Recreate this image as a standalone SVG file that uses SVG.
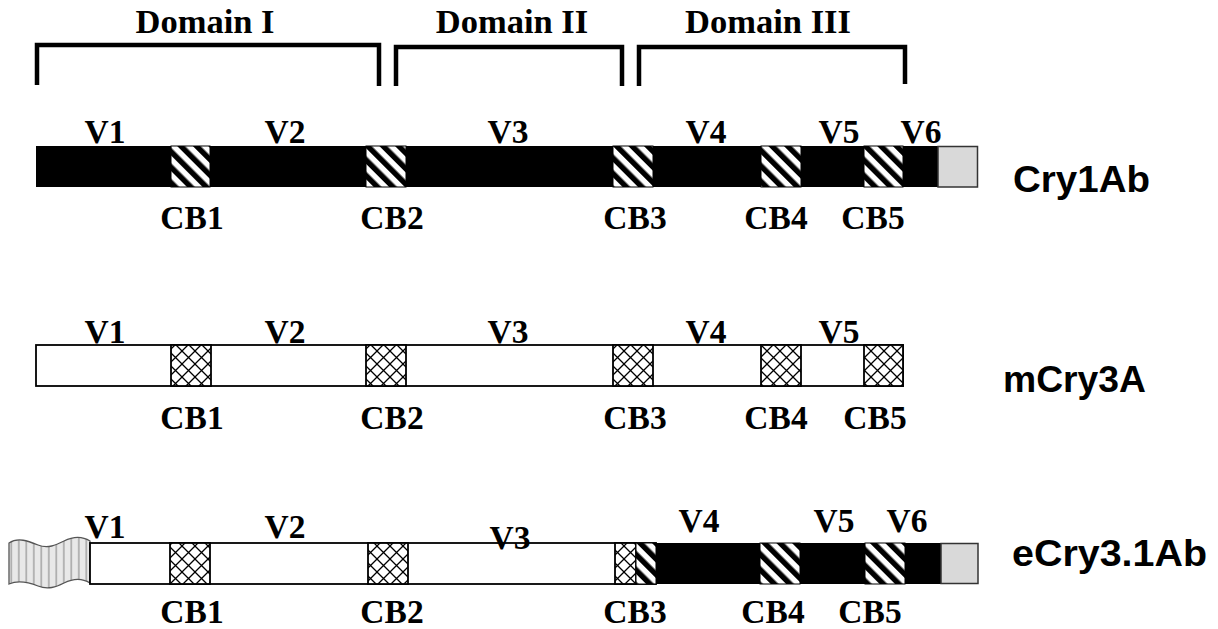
<svg xmlns="http://www.w3.org/2000/svg" width="1218" height="629" viewBox="0 0 1218 629">
<style>
.t{font-family:"Liberation Serif","Times New Roman",serif;font-weight:bold;font-size:33.5px;fill:#000;text-anchor:middle}
.d{font-family:"Liberation Serif","Times New Roman",serif;font-weight:bold;font-size:34.5px;fill:#000;text-anchor:middle}
.n{font-family:"Liberation Sans",Arial,sans-serif;font-weight:bold;font-size:37px;fill:#000}
.br{fill:none;stroke:#000;stroke-width:4.5;stroke-linejoin:miter}
.blk{fill:#000}
.wht{fill:#fff;stroke:#000;stroke-width:1.8}
.grey{fill:#d9d9d9;stroke:#333;stroke-width:1.5}
.diag{fill:url(#diag);stroke:#000;stroke-width:1}
.cross{fill:url(#cross);stroke:#000;stroke-width:1.8}
</style>
<defs>
<pattern id="diag" patternUnits="userSpaceOnUse" width="11" height="11" patternTransform="rotate(-45)">
<rect width="11" height="11" fill="#fff"/>
<rect width="5.5" height="11" fill="#000"/>
</pattern>
<pattern id="cross" patternUnits="userSpaceOnUse" width="13" height="13">
<rect width="13" height="13" fill="#fff"/>
<path d="M0,0L13,13M13,0L0,13" stroke="#000" stroke-width="1.3"/>
</pattern>
<pattern id="vstripe" patternUnits="userSpaceOnUse" width="7.5" height="10">
<rect width="7.5" height="10" fill="#e8e8e8"/>
<rect x="3" width="1.6" height="10" fill="#a8a8a8"/>
</pattern>
</defs>
<g id="domains">
<path class="br" d="M37,85V45H379V86"/>
<path class="br" d="M396,86V47H622V86"/>
<path class="br" d="M639,86V47H905V84"/>
<text class="d" x="205" y="33">Domain I</text>
<text class="d" x="512" y="33">Domain II</text>
<text class="d" x="768" y="33">Domain III</text>
</g>
<g id="cry1ab">
<rect class="blk" x="36" y="146" width="902" height="41"/>
<rect class="diag" x="171" y="146" width="39" height="41"/>
<rect class="diag" x="366" y="146" width="40" height="41"/>
<rect class="diag" x="613" y="146" width="40" height="41"/>
<rect class="diag" x="761" y="146" width="40" height="41"/>
<rect class="diag" x="864" y="146" width="39" height="41"/>
<rect class="grey" x="938" y="146.5" width="39.5" height="40.5"/>
<text class="t" x="105" y="143">V1</text>
<text class="t" x="285" y="143">V2</text>
<text class="t" x="508" y="143">V3</text>
<text class="t" x="706" y="143">V4</text>
<text class="t" x="839" y="143">V5</text>
<text class="t" x="921" y="143">V6</text>
<text class="t" x="192" y="229">CB1</text>
<text class="t" x="392" y="229">CB2</text>
<text class="t" x="635" y="229">CB3</text>
<text class="t" x="776" y="229">CB4</text>
<text class="t" x="873" y="229">CB5</text>
<text class="n" x="1013" y="192" textLength="137" lengthAdjust="spacingAndGlyphs">Cry1Ab</text>
</g>
<g id="mcry3a">
<rect class="wht" x="36" y="345" width="867" height="41"/>
<rect class="cross" x="171" y="345" width="40" height="41"/>
<rect class="cross" x="366" y="345" width="40" height="41"/>
<rect class="cross" x="613" y="345" width="40" height="41"/>
<rect class="cross" x="761" y="345" width="40" height="41"/>
<rect class="cross" x="864" y="345" width="39" height="41"/>
<text class="t" x="105" y="343">V1</text>
<text class="t" x="285" y="343">V2</text>
<text class="t" x="508" y="343">V3</text>
<text class="t" x="706" y="343">V4</text>
<text class="t" x="839" y="343">V5</text>
<text class="t" x="192" y="429">CB1</text>
<text class="t" x="392" y="429">CB2</text>
<text class="t" x="635" y="429">CB3</text>
<text class="t" x="776" y="429">CB4</text>
<text class="t" x="875" y="429">CB5</text>
<text class="n" x="1003" y="392" textLength="143" lengthAdjust="spacingAndGlyphs">mCry3A</text>
</g>
<g id="ecry31ab">
<path d="M9,543 C18,537 28,541 38,545 C48,549 56,545 64,541 C72,537 82,536 90,541 L90,583 C82,578 72,579 64,583 C56,587 48,590 38,586 C28,582 18,580 9,584 Z" fill="url(#vstripe)" stroke="#555" stroke-width="1.3"/>
<rect class="wht" x="90" y="543" width="566" height="41"/>
<rect class="blk" x="656" y="543" width="285" height="41"/>
<rect class="cross" x="170" y="543" width="40" height="41"/>
<rect class="cross" x="368" y="543" width="40" height="41"/>
<rect class="cross" x="615" y="543" width="21" height="41"/>
<rect class="diag" x="636" y="543" width="20" height="41"/>
<rect class="diag" x="760" y="543" width="40" height="41"/>
<rect class="diag" x="865" y="543" width="40" height="41"/>
<rect class="grey" x="941" y="543.5" width="37" height="40"/>
<text class="t" x="105" y="538">V1</text>
<text class="t" x="285" y="538">V2</text>
<text class="t" x="510" y="549">V3</text>
<text class="t" x="699" y="532">V4</text>
<text class="t" x="834" y="532">V5</text>
<text class="t" x="907" y="532">V6</text>
<text class="t" x="192" y="623">CB1</text>
<text class="t" x="392" y="623">CB2</text>
<text class="t" x="635" y="623">CB3</text>
<text class="t" x="773" y="623">CB4</text>
<text class="t" x="870" y="623">CB5</text>
<text class="n" x="1012" y="566" textLength="195" lengthAdjust="spacingAndGlyphs">eCry3.1Ab</text>
</g>
</svg>
